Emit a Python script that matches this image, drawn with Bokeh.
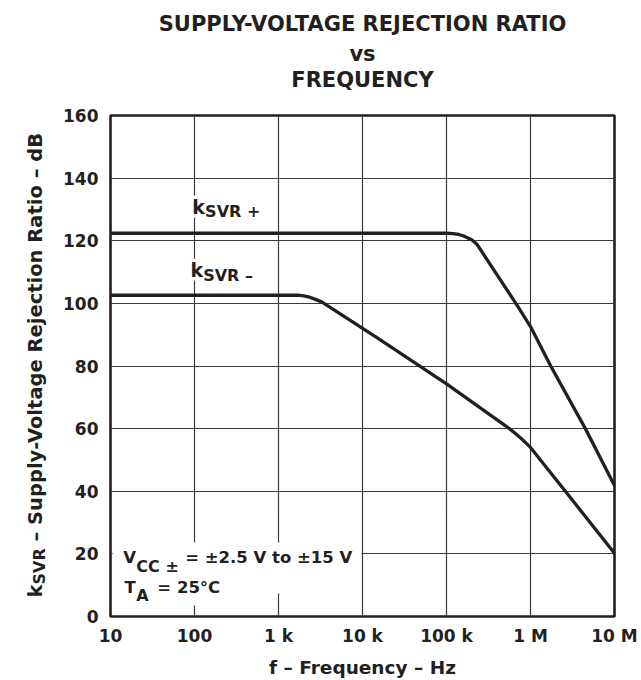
from math import pi
from bokeh.plotting import figure
from bokeh.layouts import row
from bokeh.models import Label, FixedTicker, Range1d, BoxAnnotation, CustomJSTickFormatter, Title
from bokeh.embed import file_html
from bokeh.resources import INLINE

# ---------------- data ----------------
freq_pos = [10, 1.0e5, 1.2e5, 1.4e5, 1.6e5, 1.8e5, 2.0e5, 2.3e5, 6.7e5, 1.0e6, 1.74e6, 4.5e6, 1.0e7]
ksvr_pos = [122.4, 122.4, 122.3, 122.0, 121.5, 120.9, 120.3, 118.9, 100.0, 92.6, 80.0, 60.0, 41.8]

freq_neg = [10, 1.7e3, 2.0e3, 2.4e3, 2.8e3, 3.3e3, 1.5e4, 1.0e5, 5.3e5, 6.5e5, 8.0e5, 1.0e6, 2.6e6, 1.0e7]
ksvr_neg = [102.6, 102.6, 102.4, 101.9, 101.2, 100.4, 89.0, 74.3, 60.5, 58.6, 56.5, 54.0, 40.0, 20.2]

x_ticks = [10, 100, 1e3, 1e4, 1e5, 1e6, 1e7]
x_tick_labels = ["10", "100", "1 k", "10 k", "100 k", "1 M", "10 M"]
y_ticks = [0, 20, 40, 60, 80, 100, 120, 140, 160]

title_lines = ["SUPPLY-VOLTAGE REJECTION RATIO", "vs", "FREQUENCY"]
x_title = "f \u2013 Frequency \u2013 Hz"
y_title_parts = ["k", "SVR", "\u2013 Supply-Voltage Rejection Ratio \u2013 dB"]

# ---------------- style ----------------
FONT = "DejaVu Sans"
INK = "#231f20"
GRID = "#3a3a3a"
H = 680
SIDE_W = 60
FRAME_TOP, FRAME_BOTTOM = 115, 616
DY = 1.8  # baseline correction (dB) for horizontal labels

p = figure(width=641 - SIDE_W, height=H, x_axis_type="log",
           x_range=Range1d(10, 1e7), y_range=Range1d(0, 160),
           output_backend="svg", toolbar_location=None, title=None,
           min_border_left=108 - SIDE_W, min_border_right=27,
           min_border_top=FRAME_TOP, min_border_bottom=H - FRAME_BOTTOM)
p.background_fill_color = "white"
p.border_fill_color = "white"
p.outline_line_color = INK
p.outline_line_width = 2.6

# spacer between frame and title block
p.add_layout(Title(text="\u00a0", text_font=FONT, text_font_size="10px", standoff=11), "above")
# title lines, nearest to the frame first
for line, so in zip(reversed(title_lines), [0, 0, 7.4]):
    p.add_layout(Title(text=line, align="center", text_font=FONT,
                       text_font_style="bold", text_font_size="21px", text_color=INK,
                       standoff=so), "above")

p.xaxis.ticker = FixedTicker(ticks=x_ticks, minor_ticks=[])
p.xaxis.formatter = CustomJSTickFormatter(args=dict(labels=x_tick_labels),
                                          code="return labels[Math.round(Math.log10(tick)) - 1];")
p.yaxis.ticker = FixedTicker(ticks=y_ticks, minor_ticks=[])
for ax in (p.xaxis[0], p.yaxis[0]):
    ax.axis_line_color = None
    ax.major_tick_line_color = None
    ax.minor_tick_line_color = None
    ax.major_label_text_font = FONT
    ax.major_label_text_font_style = "bold"
    ax.major_label_text_font_size = "17px"
    ax.major_label_text_color = INK
p.xaxis.major_label_standoff = 3
p.yaxis.major_label_standoff = 6
p.xaxis.axis_label = x_title
p.xaxis.axis_label_text_font = FONT
p.xaxis.axis_label_text_font_style = "bold"
p.xaxis.axis_label_text_font_size = "18.5px"
p.xaxis.axis_label_text_color = INK
p.xaxis.axis_label_standoff = 8

for g in (p.xgrid[0], p.ygrid[0]):
    g.grid_line_color = GRID
    g.grid_line_width = 1.2

p.line(freq_pos, ksvr_pos, line_width=3.3, line_color=INK, line_join="round", line_cap="round")
p.line(freq_neg, ksvr_neg, line_width=3.3, line_color=INK, line_join="round", line_cap="round")

# white areas behind the condition text
p.add_layout(BoxAnnotation(left=10.6, right=9.7e3, bottom=7.35, top=23.6,
                           fill_color="white", fill_alpha=1.0, line_color=None))
p.add_layout(BoxAnnotation(left=10.6, right=500, bottom=3.5, top=7.35,
                           fill_color="white", fill_alpha=1.0, line_color=None))


def lab(text, x, y, size, angle=0.0, align="left", bg=None):
    return Label(x=x, y=y, text=text, text_font=FONT, text_font_style="bold",
                 text_font_size=f"{size}px", text_color=INK, text_align=align,
                 text_baseline="alphabetic", angle=angle,
                 background_fill_color=bg)


# curve labels
p.add_layout(lab("k", 93.8, 129.1 + DY, 19, bg="white"))
p.add_layout(lab("SVR +", 133.8, 127.4 + DY, 16))
p.add_layout(lab("k", 89.6, 108.9 + DY, 19, bg="white"))
p.add_layout(lab("SVR \u2013", 126.8, 107.2 + DY, 16))

# conditions
p.add_layout(lab("V", 14.15, 17.2 + DY, 16.5))
p.add_layout(lab("CC \u00b1", 20.3, 14.2 + DY, 16))
p.add_layout(lab("= \u00b12.5 V to \u00b115 V", 77.4, 17.2 + DY, 16.5))
p.add_layout(lab("T", 14.65, 7.35 + DY, 16.5))
p.add_layout(lab("A", 20.3, 4.8 + DY, 16))
p.add_layout(lab("= 25\u00b0C", 36.1, 7.35 + DY, 16.5))

# side panel holding the rotated y-axis title; its frame is aligned with the main frame,
# so its y range is expressed in (inverted) page pixels
s = figure(width=SIDE_W, height=H, x_range=Range1d(0, SIDE_W),
           y_range=Range1d(H - FRAME_BOTTOM, H - FRAME_TOP),
           output_backend="svg", toolbar_location=None, title=None,
           x_axis_location=None, y_axis_location=None,
           min_border_left=0, min_border_right=0,
           min_border_top=FRAME_TOP, min_border_bottom=H - FRAME_BOTTOM)
s.outline_line_color = None
s.grid.visible = False
s.background_fill_color = "white"
s.border_fill_color = "white"
s.add_layout(lab(y_title_parts[0], 34.5, H - 597, 19.5, angle=pi / 2))
s.add_layout(lab(y_title_parts[1], 39.0, H - 584, 16, angle=pi / 2))
s.add_layout(lab(y_title_parts[2], 34.5, H - 541, 19.5, angle=pi / 2))

layout = row(s, p, spacing=0)
open("out.html", "w").write(file_html(layout, INLINE))
